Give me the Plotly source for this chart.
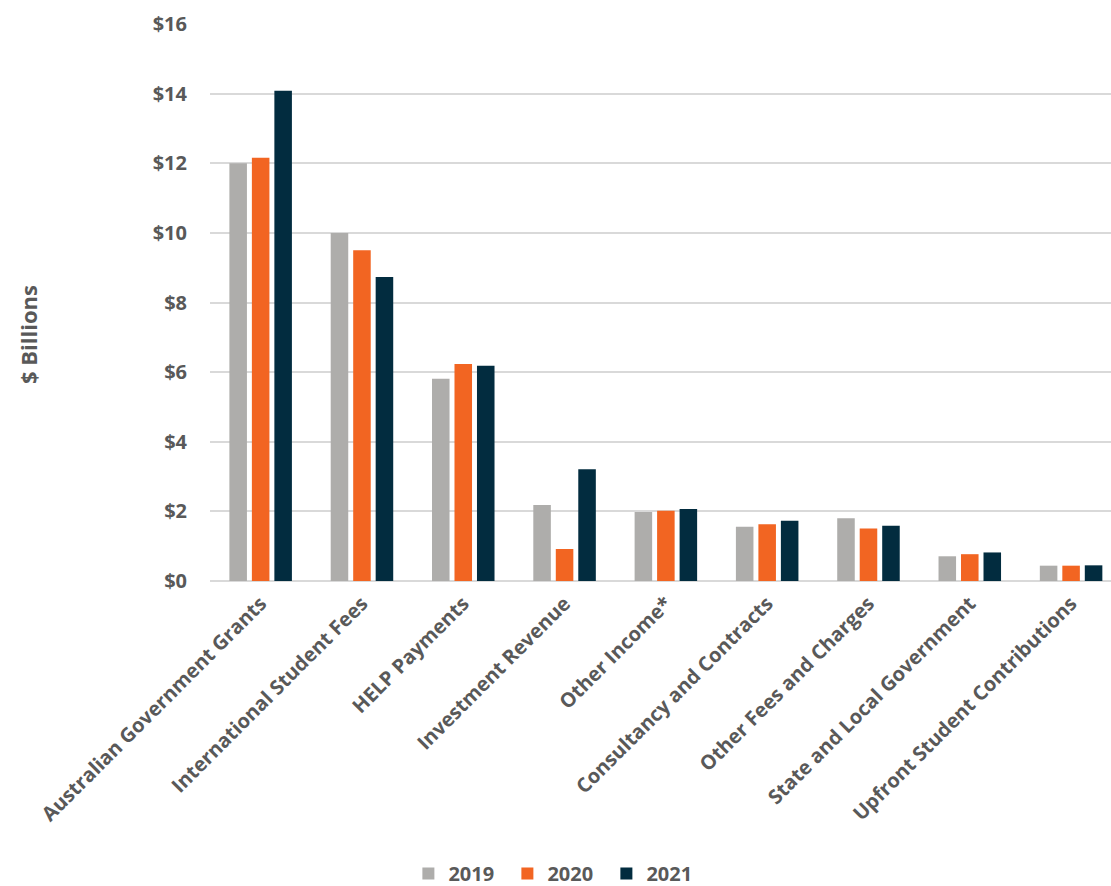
import plotly.graph_objects as go

categories = [
    "Australian Government Grants",
    "International Student Fees",
    "HELP Payments",
    "Investment Revenue",
    "Other Income*",
    "Consultancy and Contracts",
    "Other Fees and Charges",
    "State and Local Government",
    "Upfront Student Contributions",
]
years = ["2019", "2020", "2021"]
values_2019 = [12.00, 10.00, 5.81, 2.18, 1.98, 1.56, 1.80, 0.71, 0.44]
values_2020 = [12.16, 9.50, 6.23, 0.92, 2.02, 1.63, 1.51, 0.77, 0.44]
values_2021 = [14.08, 8.73, 6.18, 3.21, 2.07, 1.73, 1.59, 0.82, 0.45]
colors = ["#AEADAB", "#F26522", "#022C3F"]
tick_vals = [0, 2, 4, 6, 8, 10, 12, 14, 16]
tick_text = ["$0", "$2", "$4", "$6", "$8", "$10", "$12", "$14", "$16"]

FONT = "Open Sans"
TXT = "#595959"
FS = 20

fig = go.Figure()
for name, vals, col in zip(years, [values_2019, values_2020, values_2021], colors):
    fig.add_trace(go.Bar(
        x=categories, y=vals, name=name,
        marker=dict(color=col, line=dict(width=0)),
    ))

fig.update_layout(
    width=1111, height=886,
    margin=dict(l=210, r=0, t=24, b=305, autoexpand=False),
    plot_bgcolor="white", paper_bgcolor="white",
    barmode="group", bargap=0.334, bargroupgap=0.22,
    font=dict(family=FONT, size=FS, color=TXT, weight="bold"),
    showlegend=True,
    legend=dict(
        orientation="h", x=0.385, xanchor="center", y=-0.525, yanchor="middle",
        font=dict(family=FONT, size=FS, color=TXT, weight="bold"),
        entrywidth=54, entrywidthmode="pixels",
        itemwidth=30, tracegroupgap=0,
        bgcolor="rgba(0,0,0,0)",
    ),
)
fig.update_xaxes(
    range=[-0.5, 8.394], tickangle=-45, showgrid=False, zeroline=False,
    showline=False, ticks="", ticklabelstandoff=6,
    tickfont=dict(family=FONT, size=FS, color=TXT, weight="bold"),
)
fig.update_yaxes(
    range=[0, 16], tickvals=tick_vals, ticktext=tick_text,
    showgrid=True, gridcolor="#D9D9D9", gridwidth=2,
    zeroline=True, zerolinecolor="#D9D9D9", zerolinewidth=2,
    showline=False, ticks="", ticklabelstandoff=22,
    tickfont=dict(family=FONT, size=FS, color=TXT, weight="bold"),
)
fig.add_annotation(
    text="$ Billions", textangle=-90, xref="paper", yref="paper",
    x=(28 - 210) / 901, y=(581 - 335) / 557, showarrow=False,
    xanchor="center", yanchor="middle",
    font=dict(family=FONT, size=22, color=TXT, weight="bold"),
)
fig.write_html("out.html")
